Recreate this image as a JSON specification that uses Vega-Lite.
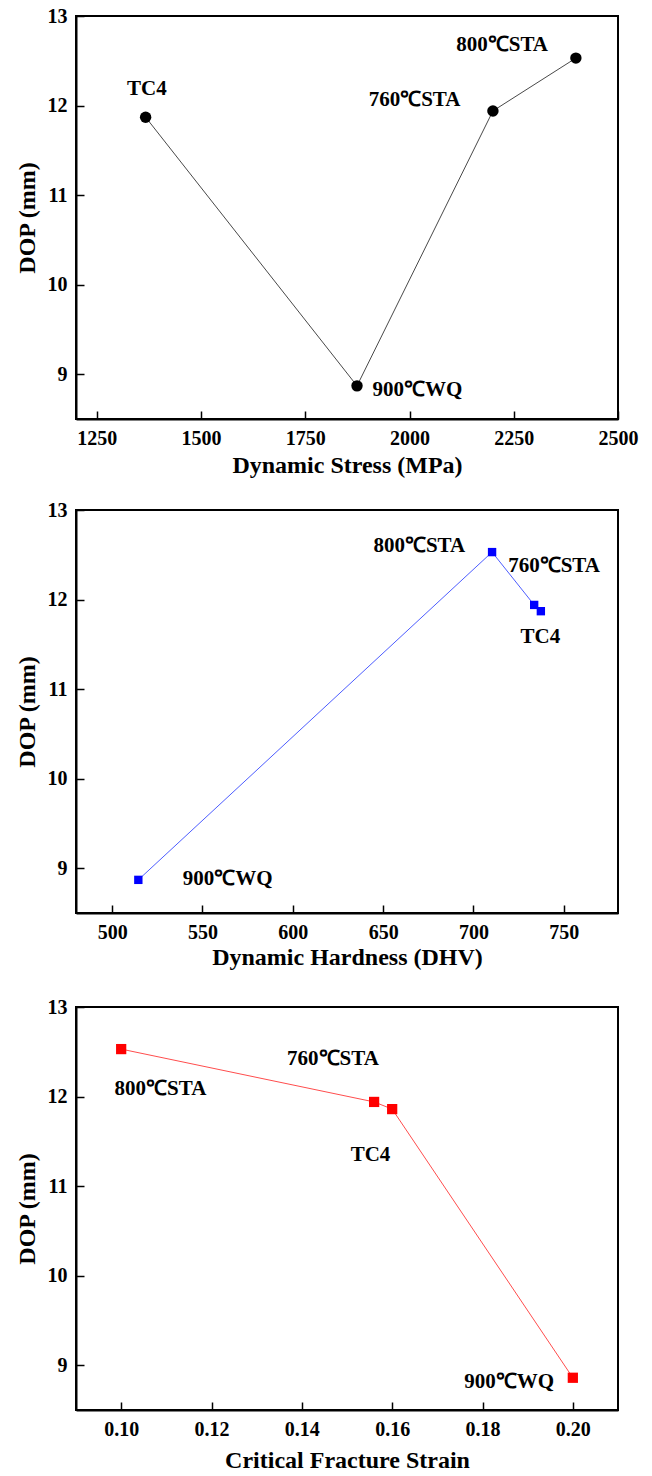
{
  "$schema": "https://vega.github.io/schema/vega-lite/v6.json",
  "background": "white",
  "padding": {"left": 14, "top": 5, "right": 5, "bottom": 5},
  "config": {
    "font": "Liberation Serif, Times New Roman, serif",
    "view": {"stroke": "black", "strokeWidth": 2},
    "axis": {
      "grid": false,
      "domainColor": "black",
      "domainWidth": 2,
      "tickColor": "black",
      "tickWidth": 1.5,
      "tickSize": -8,
      "labelPadding": 17,
      "labelFont": "Liberation Serif, Times New Roman, serif",
      "labelFontWeight": "bold",
      "labelFontSize": 20,
      "labelColor": "black",
      "labelFlush": false,
      "labelOverlap": false,
      "titleFont": "Liberation Serif, Times New Roman, serif",
      "titleFontWeight": "bold",
      "titleFontSize": 24,
      "titleColor": "black"
    },
    "axisY": {"titlePadding": 8},
    "text": {"font": "Liberation Serif, Times New Roman, serif", "fontWeight": "bold", "fontSize": 21, "color": "black", "align": "center", "baseline": "middle"}
  },
  "spacing": 26,
  "vconcat": [
    {
      "spacing": 21,
      "vconcat": [
        {
          "width": 542,
          "height": 403,
          "data": {"values": [
            {"sample": "TC4", "stress": 1367, "dop": 11.87, "label_x": 1370, "label_y": 12.19},
            {"sample": "900℃WQ", "stress": 1874, "dop": 8.87, "label_x": 2019, "label_y": 8.82},
            {"sample": "760℃STA", "stress": 2200, "dop": 11.94, "label_x": 2012, "label_y": 12.06},
            {"sample": "800℃STA", "stress": 2399, "dop": 12.53, "label_x": 2222, "label_y": 12.68}
          ]},
          "layer": [
            {
              "mark": {"type": "line", "color": "#333333", "strokeWidth": 0.9},
              "encoding": {
                "x": {"field": "stress", "type": "quantitative", "title": "Dynamic Stress (MPa)",
                      "scale": {"domain": [1200, 2500], "nice": false, "zero": false},
                      "axis": {"values": [1250, 1500, 1750, 2000, 2250, 2500], "format": "d", "titlePadding": 5}},
                "y": {"field": "dop", "type": "quantitative", "title": "DOP (mm)",
                      "scale": {"domain": [8.5, 13], "nice": false, "zero": false},
                      "axis": {"values": [9, 10, 11, 12, 13], "format": "d"}}
              }
            },
            {
              "mark": {"type": "point", "shape": "circle", "filled": true, "color": "black", "size": 130, "opacity": 1},
              "encoding": {
                "x": {"field": "stress", "type": "quantitative", "title": "Dynamic Stress (MPa)"},
                "y": {"field": "dop", "type": "quantitative", "title": "DOP (mm)"}
              }
            },
            {
              "mark": {"type": "text"},
              "encoding": {
                "x": {"field": "label_x", "type": "quantitative", "title": "Dynamic Stress (MPa)"},
                "y": {"field": "label_y", "type": "quantitative", "title": "DOP (mm)"},
                "text": {"field": "sample"}
              }
            }
          ]
        },
        {
          "width": 542,
          "height": 403,
          "data": {"values": [
            {"sample": "900℃WQ", "hardness": 514.5, "dop": 8.87, "label_x": 564, "label_y": 8.88},
            {"sample": "800℃STA", "hardness": 710.3, "dop": 12.53, "label_x": 670, "label_y": 12.6},
            {"sample": "760℃STA", "hardness": 733.6, "dop": 11.94, "label_x": 744.6, "label_y": 12.37},
            {"sample": "TC4", "hardness": 737.3, "dop": 11.87, "label_x": 737, "label_y": 11.58}
          ]},
          "layer": [
            {
              "mark": {"type": "line", "color": "#4d5dff", "strokeWidth": 1},
              "encoding": {
                "x": {"field": "hardness", "type": "quantitative", "title": "Dynamic Hardness (DHV)",
                      "scale": {"domain": [480, 780], "nice": false, "zero": false},
                      "axis": {"values": [500, 550, 600, 650, 700, 750], "format": "d", "titlePadding": 3}},
                "y": {"field": "dop", "type": "quantitative", "title": "DOP (mm)",
                      "scale": {"domain": [8.5, 13], "nice": false, "zero": false},
                      "axis": {"values": [9, 10, 11, 12, 13], "format": "d"}}
              }
            },
            {
              "mark": {"type": "point", "shape": "square", "filled": true, "color": "#0000ff", "size": 70, "opacity": 1},
              "encoding": {
                "x": {"field": "hardness", "type": "quantitative", "title": "Dynamic Hardness (DHV)"},
                "y": {"field": "dop", "type": "quantitative", "title": "DOP (mm)"}
              }
            },
            {
              "mark": {"type": "text"},
              "encoding": {
                "x": {"field": "label_x", "type": "quantitative", "title": "Dynamic Hardness (DHV)"},
                "y": {"field": "label_y", "type": "quantitative", "title": "DOP (mm)"},
                "text": {"field": "sample"}
              }
            }
          ]
        }
      ]
    },
    {
      "width": 542,
      "height": 403,
      "data": {"values": [
        {"sample": "800℃STA", "strain": 0.1, "dop": 12.53, "label_x": 0.1087, "label_y": 12.08},
        {"sample": "760℃STA", "strain": 0.156, "dop": 11.94, "label_x": 0.1469, "label_y": 12.42},
        {"sample": "TC4", "strain": 0.16, "dop": 11.86, "label_x": 0.1552, "label_y": 11.35},
        {"sample": "900℃WQ", "strain": 0.2, "dop": 8.86, "label_x": 0.1859, "label_y": 8.81}
      ]},
      "layer": [
        {
          "mark": {"type": "line", "color": "#ff4d4d", "strokeWidth": 1},
          "encoding": {
            "x": {"field": "strain", "type": "quantitative", "title": "Critical Fracture Strain",
                  "scale": {"domain": [0.09, 0.21], "nice": false, "zero": false},
                  "axis": {"values": [0.1, 0.12, 0.14, 0.16, 0.18, 0.2], "format": ".2f", "titlePadding": 9}},
            "y": {"field": "dop", "type": "quantitative", "title": "DOP (mm)",
                  "scale": {"domain": [8.5, 13], "nice": false, "zero": false},
                  "axis": {"values": [9, 10, 11, 12, 13], "format": "d"}}
          }
        },
        {
          "mark": {"type": "point", "shape": "square", "filled": true, "color": "#ff0000", "size": 105, "opacity": 1},
          "encoding": {
            "x": {"field": "strain", "type": "quantitative", "title": "Critical Fracture Strain"},
            "y": {"field": "dop", "type": "quantitative", "title": "DOP (mm)"}
          }
        },
        {
          "mark": {"type": "text"},
          "encoding": {
            "x": {"field": "label_x", "type": "quantitative", "title": "Critical Fracture Strain"},
            "y": {"field": "label_y", "type": "quantitative", "title": "DOP (mm)"},
            "text": {"field": "sample"}
          }
        }
      ]
    }
  ]
}
